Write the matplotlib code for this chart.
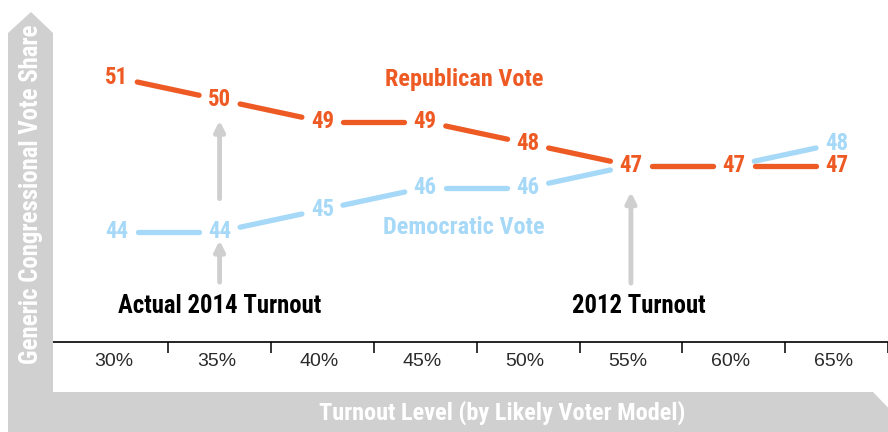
import matplotlib
matplotlib.use("Agg")
import matplotlib.pyplot as plt
from matplotlib.patches import Polygon
from matplotlib import font_manager
import numpy as np

turnout = ["30%", "35%", "40%", "45%", "50%", "55%", "60%", "65%"]
rep_vote = [51, 50, 49, 49, 48, 47, 47, 47]
dem_vote = [44, 44, 45, 46, 46, 47, 47, 48]

ORANGE = "#ee5a24"
BLUE = "#a6d8f7"
GREY = "#d0d0d0"
ARROW = "#cfcfcf"

# pick a narrow bold face if one is installed
names = {f.name for f in font_manager.fontManager.ttflist}
cond = dict(family="DejaVu Sans", fontweight="bold")
scale = 0.82
for cand in ["Roboto Condensed", "Liberation Sans Narrow", "DejaVu Sans Condensed"]:
    if cand in names:
        cond = dict(family=cand, fontweight="bold")
        scale = 1.0
        break

W, H = 888, 432
fig = plt.figure(figsize=(W / 100, H / 100), dpi=100)

def fx(px):
    return px / W

def fy(py):
    return 1 - py / H

# grey L-shaped frame with arrow heads
frame = [(8, 440), (8, 33), (31, 12), (53, 33), (53, 392), (873, 392),
         (900, 420), (873, 448)]
fig.patches.append(Polygon([(fx(a), fy(b)) for a, b in frame], closed=True,
                           transform=fig.transFigure, facecolor=GREY,
                           edgecolor="none", zorder=0))

ax = fig.add_axes([fx(53), fy(342), fx(888 - 53), 342 / H])
ax.set_facecolor("white")
ax.set_xlim(-0.62, 7.4)
ax.set_ylim(38.98, 54.53)
for s in ["top", "right", "left"]:
    ax.spines[s].set_visible(False)
ax.spines["bottom"].set_linewidth(1.2)
ax.set_yticks([])
ax.set_xticks(np.arange(len(turnout)) + 0.5)
ax.set_xticklabels([])
ax.tick_params(axis="x", direction="out", length=8, width=1.1)
for i, lab in enumerate(turnout):
    ax.text(i - 0.03, 38.98 - 0.9, lab, ha="center", va="center", fontsize=14,
            color="#2a2a2a", family="Liberation Sans", clip_on=False)

xs = np.arange(len(turnout))

def draw_series(vals, color, gap=21):
    pts = ax.transData.transform(np.column_stack([xs, vals]))
    inv = ax.transData.inverted()
    for a, b in zip(pts[:-1], pts[1:]):
        d = b - a
        u = d / np.hypot(*d)
        seg = inv.transform(np.vstack([a + u * gap, b - u * gap]))
        ax.plot(seg[:, 0], seg[:, 1], color=color, lw=3.8,
                solid_capstyle="round")

draw_series(dem_vote, BLUE)
draw_series(rep_vote, ORANGE)

fs_num = 16.5 * scale
fs_lab = 17.5 * scale
for i, v in enumerate(dem_vote):
    if v != rep_vote[i]:
        ax.text(i, v, str(v), ha="center", va="center", color=BLUE,
                fontsize=fs_num, **cond)
for i, v in enumerate(rep_vote):
    ax.text(i, v, str(v), ha="center", va="center", color=ORANGE,
            fontsize=fs_num, **cond)

ax.text(3.375, 50.9, "Republican Vote", ha="center", va="center", color=ORANGE,
        fontsize=fs_lab, **cond)
ax.text(3.375, 44.2, "Democratic Vote", ha="center", va="center", color=BLUE,
        fontsize=fs_lab, **cond)
ax.text(1.0, 40.62, "Actual 2014 Turnout", ha="center", va="center",
        color="black", fontsize=17.8 * scale, **cond)
ax.text(5.08, 40.62, "2012 Turnout", ha="center", va="center",
        color="black", fontsize=17.8 * scale, **cond)

arrow_kw = dict(arrowstyle="-|>,head_length=0.6,head_width=0.3", color=ARROW,
                lw=3.5, shrinkA=0, shrinkB=0)
ax.annotate("", xy=(1, 49.05), xytext=(1, 45.5), arrowprops=arrow_kw)
ax.annotate("", xy=(1, 43.6), xytext=(1, 41.7), arrowprops=arrow_kw)
ax.annotate("", xy=(5, 45.8), xytext=(5, 41.66), arrowprops=arrow_kw)

fig.text(fx(31), fy(194), "Generic Congressional Vote Share", rotation=90,
         ha="center", va="center", color="white", fontsize=17.8 * scale, **cond)
fig.text(fx(502), fy(413), "Turnout Level (by Likely Voter Model)",
         ha="center", va="center", color="white", fontsize=17.5 * scale, **cond)

fig.savefig("out.png", dpi=100)
